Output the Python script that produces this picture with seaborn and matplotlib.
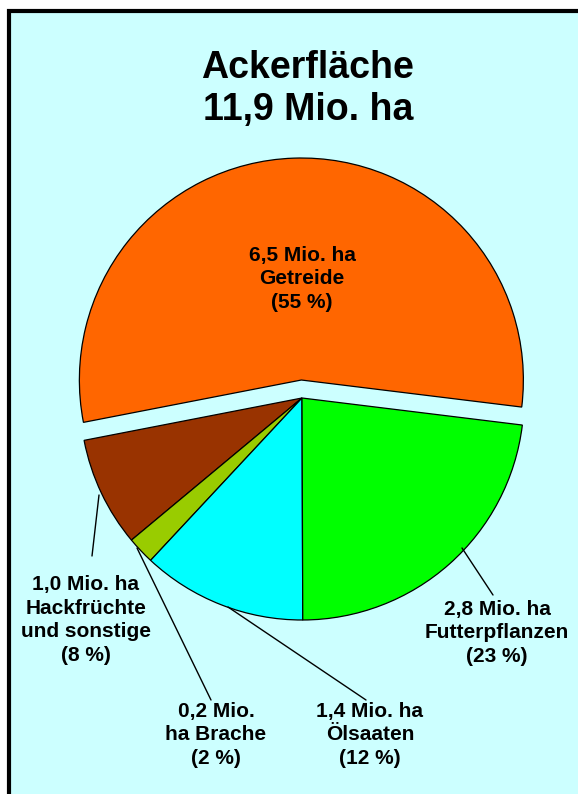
import seaborn as sns
import matplotlib.pyplot as plt
from matplotlib.patches import Rectangle

# Daten (gegen den Uhrzeigersinn, beginnend rechts)
kategorien = ["Getreide", "Hackfrüchte\nund sonstige", "Brache", "Ölsaaten", "Futterpflanzen"]
flaeche_mio_ha = [6.5, 1.0, 0.2, 1.4, 2.8]
anteil_prozent = [55, 8, 2, 12, 23]
farben = ["#FF6600", "#993300", "#99CC00", "#00FFFF", "#00FF00"]
titel = "Ackerfläche\n11,9 Mio. ha"

sns.set_style("white")
plt.rcParams["font.family"] = ["Liberation Sans", "DejaVu Sans"]
plt.rcParams["text.color"] = "black"

W, H = 578, 794
fig = plt.figure(figsize=(W / 100, H / 100), dpi=100, facecolor="white")
ax = fig.add_axes([0, 0, 1, 1])


def py(y):
    # Pixel von oben -> Datenkoordinate
    return H - y


# Hintergrund mit Rahmen (rechts/unten abgeschnitten)
ax.add_patch(Rectangle((9, -20), 650, py(11) + 20, facecolor="#CCFFFF",
                       edgecolor="black", linewidth=3, zorder=0))

explode = [18, 0, 0, 0, 0]
ax.pie(anteil_prozent, colors=farben, startangle=-7, counterclock=True,
       explode=explode, radius=222, center=(302, py(398)),
       wedgeprops=dict(edgecolor="black", linewidth=0.9))

ax.set_xlim(0, W)
ax.set_ylim(0, H)
ax.set_aspect("equal")
ax.axis("off")


def fmt(v):
    return f"{v:.1f}".replace(".", ",")


beschriftung = []
for kat, fl, pr in zip(kategorien, flaeche_mio_ha, anteil_prozent):
    if kat == "Brache":
        beschriftung.append(f"{fmt(fl)} Mio.\nha {kat}\n({pr} %)")
    else:
        beschriftung.append(f"{fmt(fl)} Mio. ha\n{kat}\n({pr} %)")

positionen = [(302, 279), (86, 620), (216, 735), (370, 735), (497, 633)]
linien = [None, ((99, 495), (92, 556)), ((137, 548), (211, 700)),
          ((228, 607), (366, 700)), ((462, 548), (493, 595))]

for txt, (x, y), lin in zip(beschriftung, positionen, linien):
    ax.text(x, py(y), txt, ha="center", va="center", fontsize=15,
            fontweight="bold", color="black", linespacing=1.32)
    if lin is not None:
        (x0, y0), (x1, y1) = lin
        ax.plot([x0, x1], [py(y0), py(y1)], color="black", linewidth=1)

ax.text(308, py(89), titel, ha="center", va="center", fontsize=27,
        fontweight="bold", color="black", linespacing=1.18)

fig.savefig("out.png", dpi=100, facecolor="white")
